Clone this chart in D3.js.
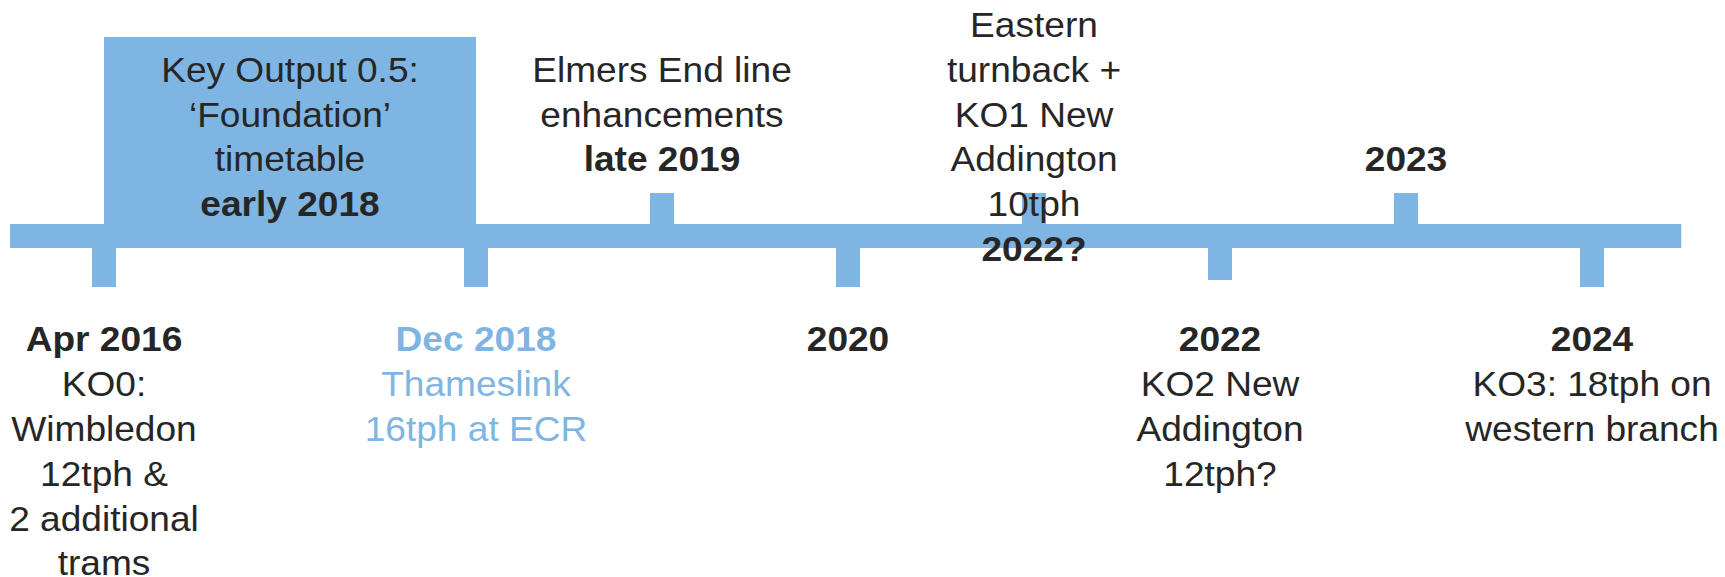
<!DOCTYPE html>
<html>
<head>
<meta charset="utf-8">
<script src="https://cdn.jsdelivr.net/npm/d3@7"></script>
<style>
  html, body { margin: 0; padding: 0; background: #fff; }
  svg { display: block; }
</style>
</head>
<body>
<svg id="chart" width="1725" height="577"></svg>
<script>
// timeline slots (the slide puts milestones on an even grid, not on real dates)
var slotDomain = [0, 8];
var barExtent = [-0.505, 8.48];

// milestone ids, their slot on the line and which side the marker sits
var milestoneIds = ["apr2016", "dec2018", "late2019", "y2020", "y2022q", "y2022", "y2023", "y2024"];
var milestoneSlots = [0, 2, 3, 4, 5, 6, 7, 8];
var milestoneSides = ["below", "below", "above", "below", "above", "below", "above", "below"];

// label lines for each milestone: [text, bold]
var milestoneLines = [
  [["Apr 2016", true], ["KO0:", false], ["Wimbledon", false], ["12tph &", false], ["2 additional", false], ["trams", false]],
  [["Dec 2018", true], ["Thameslink", false], ["16tph at ECR", false]],
  [["Elmers End line", false], ["enhancements", false], ["late 2019", true]],
  [["2020", true]],
  [["Eastern", false], ["turnback +", false], ["KO1 New", false], ["Addington", false], ["10tph", false], ["2022?", true]],
  [["2022", true], ["KO2 New", false], ["Addington", false], ["12tph?", false]],
  [["2023", true]],
  [["2024", true], ["KO3: 18tph on", false], ["western branch", false]]
];

// the shaded period (Key Output 0.5)
var periodRange = [0, 2];
var periodLines = [["Key Output 0.5:", false], ["\u2018Foundation\u2019", false], ["timetable", false], ["early 2018", true]];

// ---- layout / style (not data) ----
var blue = "#7fb5e3";
var ink = "#262626";
var barY = 224;
var barH = 24;
var tickW = 24;
var tickAbove = 31;
var tickBelow = 39;
var tickBelowShort = { y2022: 32 };
var periodTop = 37;
var fontSize = 35;
var stretchX = 1.06;
var lineH = 44.8;
var topRow0 = 37;      // baseline of first text row above the line
var bottomRow0 = 351.5; // baseline of first text row below the line
// first text row used by each label block
var startRow = { late2019: 1, y2022q: 0, y2023: 3, period: 1 };
var textColor = { dec2018: blue };

var svg = d3.select("#chart");
var x = d3.scaleLinear().domain(slotDomain).range([104, 1592]);

var milestones = milestoneIds.map(function (id, i) {
  return { id: id, slot: milestoneSlots[i], side: milestoneSides[i], lines: milestoneLines[i] };
});

// shaded period box, sits on top of the bar
svg.append("rect")
  .attr("x", x(periodRange[0]))
  .attr("y", periodTop)
  .attr("width", x(periodRange[1]) - x(periodRange[0]))
  .attr("height", barY - periodTop)
  .attr("fill", blue);

// main bar
svg.append("rect")
  .attr("x", x(barExtent[0]))
  .attr("y", barY)
  .attr("width", x(barExtent[1]) - x(barExtent[0]))
  .attr("height", barH)
  .attr("fill", blue);

// tick markers
svg.selectAll("rect.tick")
  .data(milestones)
  .enter()
  .append("rect")
  .attr("class", "tick")
  .attr("x", function (d) { return x(d.slot) - tickW / 2; })
  .attr("y", function (d) { return d.side == "above" ? barY - tickAbove : barY + barH; })
  .attr("width", tickW)
  .attr("height", function (d) {
    if (d.side == "above") return tickAbove;
    return tickBelowShort[d.id] || tickBelow;
  })
  .attr("fill", blue);

// draws one block of centred lines
function drawBlock(cx, firstBaseline, lines, color) {
  var g = svg.append("g")
    .attr("transform", "translate(" + cx + ",0) scale(" + stretchX + ",1)");
  g.selectAll("text")
    .data(lines)
    .enter()
    .append("text")
    .attr("x", 0)
    .attr("y", function (d, i) { return firstBaseline + i * lineH; })
    .attr("text-anchor", "middle")
    .attr("font-family", "'Liberation Sans', Arial, sans-serif")
    .attr("font-size", fontSize)
    .attr("font-weight", function (d) { return d[1] ? "bold" : "normal"; })
    .attr("fill", color)
    .text(function (d) { return d[0]; });
}

drawBlock((x(periodRange[0]) + x(periodRange[1])) / 2, topRow0 + startRow.period * lineH, periodLines, ink);

milestones.forEach(function (d) {
  var row = startRow[d.id] || 0;
  var base = d.side == "above" ? topRow0 + row * lineH : bottomRow0 + row * lineH;
  drawBlock(x(d.slot), base, d.lines, textColor[d.id] || ink);
});
</script>
</body>
</html>
